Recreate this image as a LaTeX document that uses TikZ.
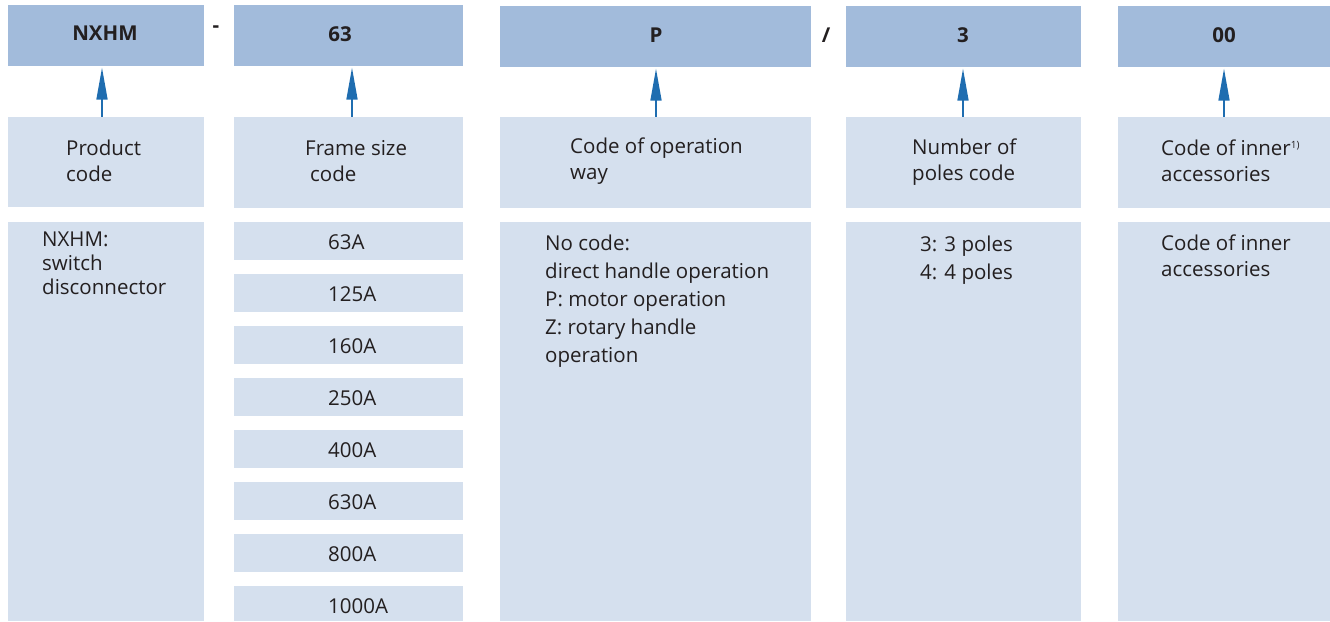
\documentclass[tikz,border=0pt]{standalone}
\usepackage{fontspec}
\setmainfont{Open Sans}
\usetikzlibrary{arrows.meta}
\definecolor{topc}{HTML}{A2BBDB}
\definecolor{lightc}{HTML}{D5E0EE}
\definecolor{arrc}{HTML}{1F6DB0}
\definecolor{txt}{HTML}{231F20}
\tikzset{
  topbox/.style={fill=topc, draw=none, inner sep=0pt, font=\fontsize{20.5}{24}\selectfont\bfseries, text=txt},
  litebox/.style={fill=lightc, draw=none, inner sep=0pt},
  lbl/.style={anchor=north west, inner sep=0pt, align=left, text=txt, font=\fontsize{20.5}{25.5}\selectfont},
  amp/.style={anchor=west, inner sep=0pt, text=txt, font=\fontsize{20.5}{24}\selectfont},
  arr/.style={draw=arrc, line width=1.6pt, -{Triangle[length=32pt,width=11pt]}, shorten >=1.5pt},
}
\newcommand{\bx}[6]{\node[#1, minimum width=#4-#3, minimum height=#6-#5] (#2) at ({(#3+#4)/2},{(#5+#6)/2}) {};}
\begin{document}
\begin{tikzpicture}[x=1pt,y=-1pt]
\useasboundingbox (0,0) rectangle (1330,621);
% top row
\bx{topbox}{t1}{8}{204}{5}{66}
\bx{topbox}{t2}{234}{463}{5}{66}
\bx{topbox}{t3}{500}{811}{6}{67}
\bx{topbox}{t4}{846}{1081}{6}{67}
\bx{topbox}{t5}{1118}{1330}{6}{67}
\node[topbox, fill=none] (tt1) at (105,33) {NXHM};
\node[topbox, fill=none] (tt2) at (340,34) {63};
\node[topbox, fill=none] (tt3) at (656,35) {P};
\node[topbox, fill=none] (tt4) at (963,35) {3};
\node[topbox, fill=none] (tt5) at (1224,35) {00};
\node[topbox, fill=none] (dash) at (216,29) {-};
\node[topbox, fill=none] (slash) at (826,35) {/};
% middle row
\bx{litebox}{m1}{8}{204}{117}{207}
\bx{litebox}{m2}{234}{463}{117}{208}
\bx{litebox}{m3}{500}{811}{117}{208}
\bx{litebox}{m4}{846}{1081}{117}{208}
\bx{litebox}{m5}{1118}{1330}{117}{208}
\node[lbl] (ml1) at (66,140) {Product\\code};
\node[lbl] (ml2a) at (305,140) {Frame size};
\node[lbl] (ml2b) at (310,165.5) {code};
\node[lbl] (ml3) at (570,138) {Code of operation\\way};
\node[lbl] (ml4) at (912,139) {Number of\\poles code};
\node[lbl] (ml5) at (1161,140) {Code of inner\textsuperscript{\fontsize{10}{10}\selectfont 1)}\\accessories};
% arrows
\coordinate (a1) at (102,0);
\coordinate (a2) at (352,0);
\coordinate (a3) at (656,0);
\coordinate (a4) at (963,0);
\coordinate (a5) at (1224,0);
\draw[arr] (m1.north -| a1) -- (t1.south -| a1);
\draw[arr] (m2.north -| a2) -- (t2.south -| a2);
\draw[arr] (m3.north -| a3) -- (t3.south -| a3);
\draw[arr] (m4.north -| a4) -- (t4.south -| a4);
\draw[arr] (m5.north -| a5) -- (t5.south -| a5);
% bottom row
\bx{litebox}{b1}{8}{204}{222}{621}
\bx{litebox}{b3}{500}{811}{222}{621}
\bx{litebox}{b4}{846}{1081}{222}{621}
\bx{litebox}{b5}{1118}{1330}{222}{621}
\foreach \i/\t/\l in {0/222/63A,1/274/125A,2/326/160A,3/378/250A,4/430/400A,5/482/630A,6/534/800A,7/586/1000A}{
  \pgfmathsetmacro{\bt}{\t+38}
  \pgfmathsetmacro{\bt}{min(\bt,621)}
  \bx{litebox}{f\i}{234}{463}{\t}{\bt}
  \node[amp] (fl\i) at (328,\t+20) {\l};
}
\node[lbl, font=\fontsize{20.5}{24}\selectfont] (bl1) at (42,232) {NXHM:\\switch\\disconnector};
\node[lbl, font=\fontsize{20.5}{28}\selectfont] (bl3) at (545,235) {No code:\\direct handle operation\\P: motor operation\\Z: rotary handle\\operation};
\node[lbl, font=\fontsize{20.5}{27.5}\selectfont] (bl4) at (920,236) {3: 3 poles\\4: 4 poles};
\node[lbl] (bl5) at (1161,235) {Code of inner\\accessories};
\end{tikzpicture}
\end{document}
